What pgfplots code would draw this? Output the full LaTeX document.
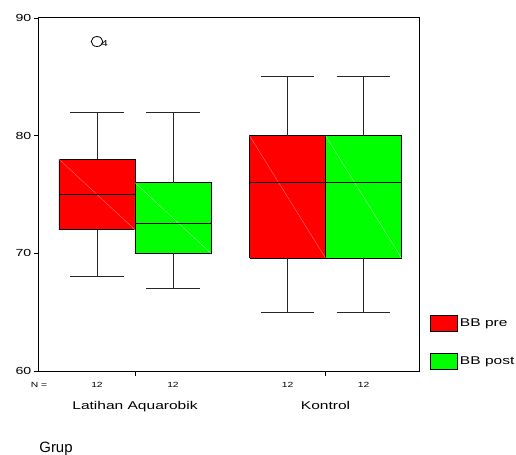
\documentclass[border=0pt]{standalone}
\usepackage{fontspec}
\setmainfont{Liberation Sans}
\newfontfamily\sw[FakeStretch=1.38]{Liberation Sans}
\usepackage{pgfplots}
\pgfplotsset{compat=1.18}
\definecolor{spssred}{RGB}{255,0,0}
\definecolor{spssgreen}{RGB}{0,255,0}
\begin{document}
\begin{tikzpicture}
\path[use as bounding box] (-39bp,-84bp) rectangle (477bp,371bp);
\begin{axis}[
  at={(0,0)}, anchor=south west,
  scale only axis, width=380bp, height=353bp,
  xmin=0, xmax=5, ymin=60, ymax=90,
  ytick={60,70,80,90},
  xtick={1.263,3.77},
  xticklabels={},
  tick align=outside, xtick pos=left, ytick pos=left,
  major tick length=5bp,
  tick style={black, line width=0.8bp},
  axis line style={black, line width=1bp},
  /pgf/number format/assume math mode=true,
  yticklabel style={font=\sw\fontsize{10.3}{12}\selectfont, inner sep=2.5bp},
  clip=false,
  unbounded coords=jump,
  legend image code/.code={\draw[#1] (0bp,-8bp) rectangle (27bp,8bp);},
  legend style={at={(axis cs:5,60)}, anchor=south west, xshift=11bp, yshift=1bp,
    draw=none, fill=none, inner sep=0pt, row sep=21bp, column sep=0pt,
    nodes={inner sep=0pt, font=\sw\fontsize{11.3}{13}\selectfont}},
  legend cell align=left,
]
% ---- boxes (quartiles): BB pre red, BB post green
\addplot[fill=spssred, draw=black, line width=0.9bp]
  coordinates {(0.263,72) (1.263,72) (1.263,78) (0.263,78) (0.263,72)};
\addlegendentry{\,BB pre}
\addplot[fill=spssgreen, draw=black, line width=0.9bp]
  coordinates {(1.263,70) (2.263,70) (2.263,76) (1.263,76) (1.263,70)};
\addlegendentry{\,BB post}
\addplot[fill=spssred, draw=black, line width=0.9bp, forget plot]
  coordinates {(2.77,69.6) (3.77,69.6) (3.77,80) (2.77,80) (2.77,69.6)};
\addplot[fill=spssgreen, draw=black, line width=0.9bp, forget plot]
  coordinates {(3.77,69.6) (4.77,69.6) (4.77,80) (3.77,80) (3.77,69.6)};
% ---- faint diagonal artefacts
\addplot[red!55!white, line width=0.4bp, forget plot] coordinates {(0.263,78) (1.263,72) (nan,nan) (2.77,80) (3.77,69.6)};
\addplot[green!40!white, line width=0.4bp, forget plot] coordinates {(1.263,76) (2.263,70) (nan,nan) (3.77,80) (4.77,69.6)};
% ---- medians
\addplot[black, line width=0.9bp, forget plot] coordinates {
  (0.263,75) (1.263,75) (nan,nan)
  (1.263,72.5) (2.263,72.5) (nan,nan)
  (2.77,76) (4.77,76)};
% ---- whiskers and caps
\addplot[black!85, line width=0.9bp, forget plot] coordinates {
  (0.763,78) (0.763,82) (nan,nan) (0.413,82) (1.113,82) (nan,nan)
  (0.763,72) (0.763,68) (nan,nan) (0.413,68) (1.113,68) (nan,nan)
  (1.763,76) (1.763,82) (nan,nan) (1.413,82) (2.113,82) (nan,nan)
  (1.763,70) (1.763,67) (nan,nan) (1.413,67) (2.113,67) (nan,nan)
  (3.27,80) (3.27,85) (nan,nan) (2.92,85) (3.62,85) (nan,nan)
  (3.27,69.6) (3.27,65) (nan,nan) (2.92,65) (3.62,65) (nan,nan)
  (4.27,80) (4.27,85) (nan,nan) (3.92,85) (4.62,85) (nan,nan)
  (4.27,69.6) (4.27,65) (nan,nan) (3.92,65) (4.62,65)};
% ---- outlier (case 4)
\addplot[only marks, mark=o, mark size=5, mark options={xscale=1.15, draw=black, line width=0.8bp}, forget plot]
  coordinates {(0.763,88)};
\node[font=\sw\fontsize{8.5}{9}\selectfont, xshift=7.6bp, yshift=-2bp] at (axis cs:0.763,88) {4};
% ---- N row and group labels
\begin{scope}[every node/.style={anchor=base, font=\sw\fontsize{7.5}{8}\selectfont}]
\node[yshift=-16.7bp] at (axis cs:0,60) {N =};
\node[yshift=-16.7bp] at (axis cs:0.763,60) {12};
\node[yshift=-16.7bp] at (axis cs:1.763,60) {12};
\node[yshift=-16.7bp] at (axis cs:3.27,60) {12};
\node[yshift=-16.7bp] at (axis cs:4.27,60) {12};
\end{scope}
\node[anchor=base, font=\sw\fontsize{11.3}{13}\selectfont, yshift=-38bp] at (axis cs:1.263,60) {Latihan Aquarobik};
\node[anchor=base, font=\sw\fontsize{11.3}{13}\selectfont, yshift=-38bp] at (axis cs:3.77,60) {Kontrol};
\end{axis}
\node[anchor=base, font=\fontsize{15}{18}\selectfont] at (17bp,-81.5bp) {Grup};
\end{tikzpicture}
\end{document}
